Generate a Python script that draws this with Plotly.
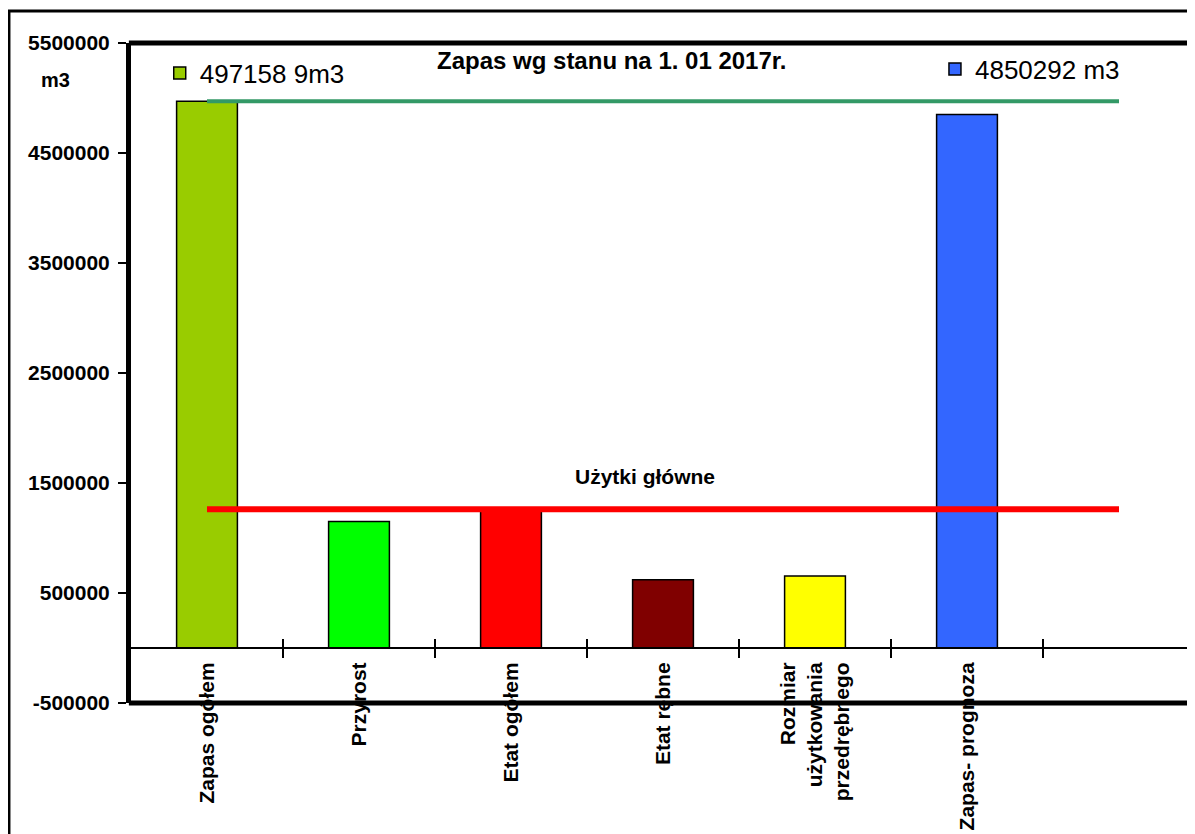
import plotly.graph_objects as go

# ---- data ----
categories = ["Zapas ogółem", "Przyrost", "Etat ogółem", "Etat rębne",
              "Rozmiar<br>użytkowania<br>przedrębnego", "Zapas- prognoza"]
values = [4971589, 1150000, 1262000, 620000, 655000, 4850292]
colors = ["#99CC00", "#00FF00", "#FF0000", "#800000", "#FFFF00", "#3366FF"]
legend_names = {0: "497158 9m3", 5: "4850292 m3"}

line_slots = [0, 1, 2, 3, 4, 5, 6]
zapas_line = [4971589, 4971589, 4971589, 4971589, 4971589, 4971589, 4971589]
uzytki_line = [1262000, 1262000, 1262000, 1262000, 1262000, 1262000, 1262000]

y_ticks = [-500000, 500000, 1500000, 2500000, 3500000, 4500000, 5500000]
y_range = [-500000, 5500000]
title_text = "Zapas wg stanu na 1. 01 2017r."
unit_text = "m3"
line_label = "Użytki główne"

FONT = "Arial, Liberation Sans, sans-serif"

fig = go.Figure()

positions = list(range(len(categories)))
for i, (cat, v, c) in enumerate(zip(categories, values, colors)):
    if i == 0:
        kw = dict(showlegend=True, name=legend_names[0], legend="legend")
    elif i == 5:
        kw = dict(showlegend=True, name=legend_names[5], legend="legend2")
    else:
        kw = dict(showlegend=False, name=cat)
    fig.add_trace(go.Bar(
        x=[positions[i]], y=[v], width=0.4,
        marker=dict(color=c, line=dict(color="black", width=1.5)),
        hoverinfo="x+y", **kw))

fig.add_trace(go.Scatter(x=line_slots, y=zapas_line, mode="lines", xaxis="x2",
                         line=dict(color="#339966", width=4), showlegend=False))
fig.add_trace(go.Scatter(x=line_slots, y=uzytki_line, mode="lines",
                         line=dict(color="#FF0000", width=6), showlegend=False))

x_range = [-0.5, len(line_slots) - 0.5]
zero_pos = (0 - y_range[0]) / (y_range[1] - y_range[0])
boundaries = [p + 0.5 for p in positions]

fig.update_layout(
    width=1187, height=826,
    margin=dict(l=123, r=0, t=35, b=131),
    paper_bgcolor="white", plot_bgcolor="white",
    font=dict(family=FONT, color="black"),
    barmode="overlay",
    xaxis=dict(
        range=x_range, anchor="free", position=zero_pos,
        tickmode="array", tickvals=positions, ticktext=categories,
        tickangle=-90, ticks="", ticklabelstandoff=5,
        tickfont=dict(family=FONT, size=21, weight="bold", color="black"),
        minor=dict(tickmode="array", tickvals=boundaries, ticks="outside",
                   ticklen=9, tickwidth=2, tickcolor="black", showgrid=False),
        showline=True, linecolor="black", linewidth=2,
        showgrid=False, zeroline=False),
    xaxis2=dict(
        range=x_range, overlaying="x", anchor="free", position=zero_pos,
        tickmode="array", tickvals=boundaries, ticks="inside",
        ticklen=9, tickwidth=2, tickcolor="black",
        showticklabels=False, showline=False, showgrid=False, zeroline=False),
    yaxis=dict(
        range=y_range, tickmode="array", tickvals=y_ticks,
        ticktext=[str(v) for v in y_ticks],
        ticks="outside", ticklen=8, tickwidth=2, tickcolor="black",
        ticklabelstandoff=4,
        tickfont=dict(family=FONT, size=21, weight="bold", color="black"),
        showline=True, linecolor="black", linewidth=5,
        showgrid=False, zeroline=False),
    legend=dict(x=0.027, y=0.9545, xanchor="left", yanchor="middle",
                bgcolor="rgba(0,0,0,0)",
                font=dict(family=FONT, size=26, color="black")),
    legend2=dict(x=0.7556, y=0.9606, xanchor="left", yanchor="middle",
                 bgcolor="rgba(0,0,0,0)",
                 font=dict(family=FONT, size=26, color="black")),
    annotations=[
        dict(text=title_text, xref="paper", yref="paper", x=0.4525, y=0.974,
             showarrow=False, xanchor="center", yanchor="middle",
             font=dict(family=FONT, size=24, weight="bold", color="black")),
        dict(text=unit_text, xref="paper", yref="paper", x=-0.0714, y=0.944,
             showarrow=False, xanchor="center", yanchor="middle",
             font=dict(family=FONT, size=20, weight="bold", color="black")),
        dict(text=line_label, xref="x", yref="y", x=2.88, y=1560000,
             showarrow=False, xanchor="center", yanchor="middle",
             font=dict(family=FONT, size=21, weight="bold", color="black")),
    ],
    shapes=[
        dict(type="rect", xref="paper", yref="paper",
             x0=-0.1147, x1=1.2, y0=-0.5, y1=1.0485,
             line=dict(color="black", width=3), fillcolor="rgba(0,0,0,0)"),
        dict(type="line", xref="paper", yref="paper",
             x0=0.998, x1=0.998, y0=0, y1=1,
             line=dict(color="#999999", width=1.5)),
        dict(type="line", xref="paper", yref="paper",
             x0=-0.002, x1=1.0, y0=1, y1=1,
             line=dict(color="black", width=5)),
        dict(type="line", xref="paper", yref="paper",
             x0=-0.002, x1=1.0, y0=0, y1=0,
             line=dict(color="black", width=5)),
    ],
)

fig.write_html("out.html")
